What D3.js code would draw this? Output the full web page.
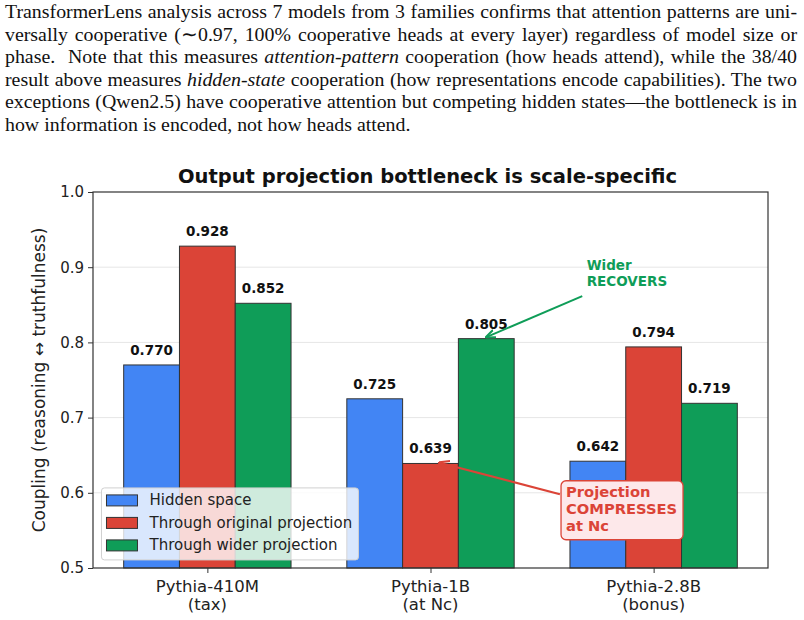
<!DOCTYPE html>
<html>
<head>
<meta charset="utf-8">
<script src="https://cdn.jsdelivr.net/npm/d3@7"></script>
<style>
  body { margin: 0; background: #fff; }
  svg { display: block; }
</style>
</head>
<body>
<div id="chart"></div>
<script>
// data
const models = ['Pythia-410M', 'Pythia-1B', 'Pythia-2.8B']
const phases = ['(tax)', '(at Nc)', '(bonus)']
const series = ['Hidden space', 'Through original projection', 'Through wider projection']
const hidden = [0.770, 0.725, 0.642]
const original = [0.928, 0.639, 0.794]
const wider = [0.852, 0.805, 0.719]
const yTicks = [0.5, 0.6, 0.7, 0.8, 0.9, 1.0]
const colors = ['#4285F4', '#DB4437', '#0F9D58']

const paragraph = [
  [['TransformerLens analysis across 7 models from 3 families confirms that attention patterns are uni-', false]],
  [['versally cooperative (\u223c0.97, 100% cooperative heads at every layer) regardless of model size or', false]],
  [['phase.  Note that this measures ', false], ['attention-pattern', true], [' cooperation (how heads attend), while the 38/40', false]],
  [['result above measures ', false], ['hidden-state', true], [' cooperation (how representations encode capabilities). The two', false]],
  [['exceptions (Qwen2.5) have cooperative attention but competing hidden states\u2014the bottleneck is in', false]],
  [['how information is encoded, not how heads attend.', false]]
]

const W = 804, H = 620
const margin = { top: 192, left: 93, right: 36, bottom: 52 }
const width = W - margin.left - margin.right
const height = H - margin.top - margin.bottom

const svg = d3.select('#chart').append('svg')
  .attr('width', W)
  .attr('height', H)

// paragraph text above the figure
const para = svg.append('g')
  .style('font-family', '"Liberation Serif", "Times New Roman", serif')
  .style('font-size', '18px')
  .attr('fill', '#111')

const lines = paragraph.map(function (parts, i) {
  const t = para.append('text')
    .attr('x', 5)
    .attr('y', 18 + i * 22.6)
    .attr('xml:space', 'preserve')
  parts.forEach(function (p) {
    t.append('tspan').text(p[0]).style('font-style', p[1] ? 'italic' : 'normal')
  })
  return t
})

// pick a font size so the tightest line nearly fills the column, then justify
const lineW = 792
const natural = lines.slice(0, -1).map(t => t.node().getComputedTextLength())
const fs = 18 * lineW / d3.max(natural) * 0.995
para.style('font-size', fs + 'px')
lines.forEach(function (t, i) {
  if (i === lines.length - 1) return
  const full = paragraph[i].map(p => p[0]).join('')
  const nSpaces = (full.match(/ /g) || []).length
  const len = t.node().getComputedTextLength()
  t.style('word-spacing', Math.max(0, (lineW - len) / nSpaces) + 'px')
})

const g = svg.append('g')
  .attr('transform', 'translate(' + margin.left + ',' + margin.top + ')')
  .style('font-family', '"DejaVu Sans", sans-serif')

const x = d3.scaleLinear().domain([-0.5125, 2.5125]).range([0, width])
const y = d3.scaleLinear().domain([0.5, 1.0]).range([height, 0])
const barW = 0.25

// grid
g.append('g')
  .selectAll('line')
  .data(yTicks.slice(1, -1))
  .enter()
  .append('line')
  .attr('x1', 0)
  .attr('x2', width)
  .attr('y1', d => y(d))
  .attr('y2', d => y(d))
  .attr('stroke', '#e6e6e6')
  .attr('stroke-width', 1)

// bars
const allSeries = [hidden, original, wider]
allSeries.forEach(function (vals, s) {
  const off = (s - 1) * barW
  g.append('g')
    .selectAll('rect')
    .data(vals)
    .enter()
    .append('rect')
    .attr('x', (d, i) => x(i + off - barW / 2))
    .attr('width', x(barW) - x(0))
    .attr('y', d => y(d))
    .attr('height', d => height - y(d))
    .attr('fill', colors[s])
    .attr('stroke', '#333')
    .attr('stroke-width', 1)

  g.append('g')
    .selectAll('text')
    .data(vals)
    .enter()
    .append('text')
    .attr('x', (d, i) => x(i + off))
    .attr('y', d => y(d) - 10)
    .attr('text-anchor', 'middle')
    .style('font-size', '13.5px')
    .style('font-weight', 'bold')
    .attr('fill', '#111')
    .text(d => d.toFixed(3))
})

// frame
g.append('rect')
  .attr('width', width)
  .attr('height', height)
  .attr('fill', 'none')
  .attr('stroke', '#333')
  .attr('stroke-width', 1.2)

// y axis
const yAxis = g.append('g')
  .call(d3.axisLeft(y).tickValues(yTicks).tickFormat(d3.format('.1f')).tickSize(5))
yAxis.select('.domain').remove()
yAxis.selectAll('line').attr('stroke', '#333')
yAxis.selectAll('text').style('font-size', '15px').style('font-family', '"DejaVu Sans", sans-serif').attr('fill', '#222').attr('dx', '-1')

// x axis
const xAxis = g.append('g')
  .attr('transform', 'translate(0,' + height + ')')
  .call(d3.axisBottom(x).tickValues([0, 1, 2]).tickFormat('').tickSize(5))
xAxis.select('.domain').remove()
xAxis.selectAll('line').attr('stroke', '#333')

models.forEach(function (m, i) {
  const t = g.append('text')
    .attr('x', x(i))
    .attr('y', height + 24)
    .attr('text-anchor', 'middle')
    .style('font-size', '16.5px')
    .attr('fill', '#222')
  t.append('tspan').attr('x', x(i)).text(m)
  t.append('tspan').attr('x', x(i)).attr('dy', 18).text(phases[i])
})

// y label
g.append('text')
  .attr('transform', 'translate(-48,' + height / 2 + ') rotate(-90)')
  .attr('text-anchor', 'middle')
  .style('font-size', '17px')
  .attr('fill', '#222')
  .text('Coupling (reasoning \u2194 truthfulness)')

// title
svg.append('text')
  .attr('x', margin.left + width / 2 - 3)
  .attr('y', 183)
  .attr('text-anchor', 'middle')
  .style('font-family', '"DejaVu Sans", sans-serif')
  .style('font-size', '19.5px')
  .style('font-weight', 'bold')
  .attr('fill', '#111')
  .text('Output projection bottleneck is scale-specific')

// arrow markers
const defs = svg.append('defs')
function marker(id, color) {
  defs.append('marker')
    .attr('id', id)
    .attr('viewBox', '0 0 10 10')
    .attr('refX', 9)
    .attr('refY', 5)
    .attr('markerWidth', 5)
    .attr('markerHeight', 5)
    .attr('orient', 'auto')
    .append('path')
    .attr('d', 'M0,1 L10,5 L0,9')
    .attr('fill', 'none')
    .attr('stroke', color)
    .attr('stroke-width', 2)
}
marker('arrGreen', '#0F9D58')
marker('arrRed', '#DB4437')

// "Wider RECOVERS" annotation
g.append('line')
  .attr('x1', x(1.68))
  .attr('y1', y(0.8615))
  .attr('x2', x(1.25))
  .attr('y2', y(0.807))
  .attr('stroke', '#0F9D58')
  .attr('stroke-width', 2)
  .attr('marker-end', 'url(#arrGreen)')

const wt = g.append('text')
  .attr('x', x(1.7))
  .attr('y', y(0.896))
  .style('font-size', '13.5px')
  .style('font-weight', 'bold')
  .attr('fill', '#0F9D58')
wt.append('tspan').attr('x', x(1.7)).text('Wider')
wt.append('tspan').attr('x', x(1.7)).attr('dy', 16).text('RECOVERS')

// "Projection COMPRESSES" annotation
g.append('line')
  .attr('x1', x(1.58))
  .attr('y1', y(0.598))
  .attr('x2', x(1.04))
  .attr('y2', y(0.64))
  .attr('stroke', '#DB4437')
  .attr('stroke-width', 2.2)
  .attr('marker-end', 'url(#arrRed)')

const bx = x(1.585), by = y(0.616)
g.append('rect')
  .attr('x', bx)
  .attr('y', by)
  .attr('width', 122)
  .attr('height', 59)
  .attr('rx', 5)
  .attr('fill', '#fde8ea')
  .attr('stroke', '#DB4437')
  .attr('stroke-width', 1.3)

const rt = g.append('text')
  .attr('x', bx + 5)
  .attr('y', by + 16)
  .style('font-size', '14.7px')
  .style('font-weight', 'bold')
  .attr('fill', '#DB4437')
rt.append('tspan').attr('x', bx + 5).text('Projection')
rt.append('tspan').attr('x', bx + 5).attr('dy', 17).text('COMPRESSES')
rt.append('tspan').attr('x', bx + 5).attr('dy', 17).text('at Nc')

// legend
const leg = g.append('g').attr('transform', 'translate(' + (x(-0.4745)) + ',' + y(0.6065) + ')')
leg.append('rect')
  .attr('width', 257)
  .attr('height', 72)
  .attr('rx', 3)
  .attr('fill', 'rgba(255,255,255,0.8)')
  .attr('stroke', '#d0d0d0')

series.forEach(function (s, i) {
  leg.append('rect')
    .attr('x', 5)
    .attr('y', 7 + i * 22.5)
    .attr('width', 31)
    .attr('height', 11)
    .attr('fill', colors[i])
    .attr('stroke', '#333')
    .attr('stroke-width', 1)
  leg.append('text')
    .attr('x', 48)
    .attr('y', 17.5 + i * 22.5)
    .style('font-size', '15px')
    .attr('fill', '#222')
    .text(s)
})
</script>
</body>
</html>
